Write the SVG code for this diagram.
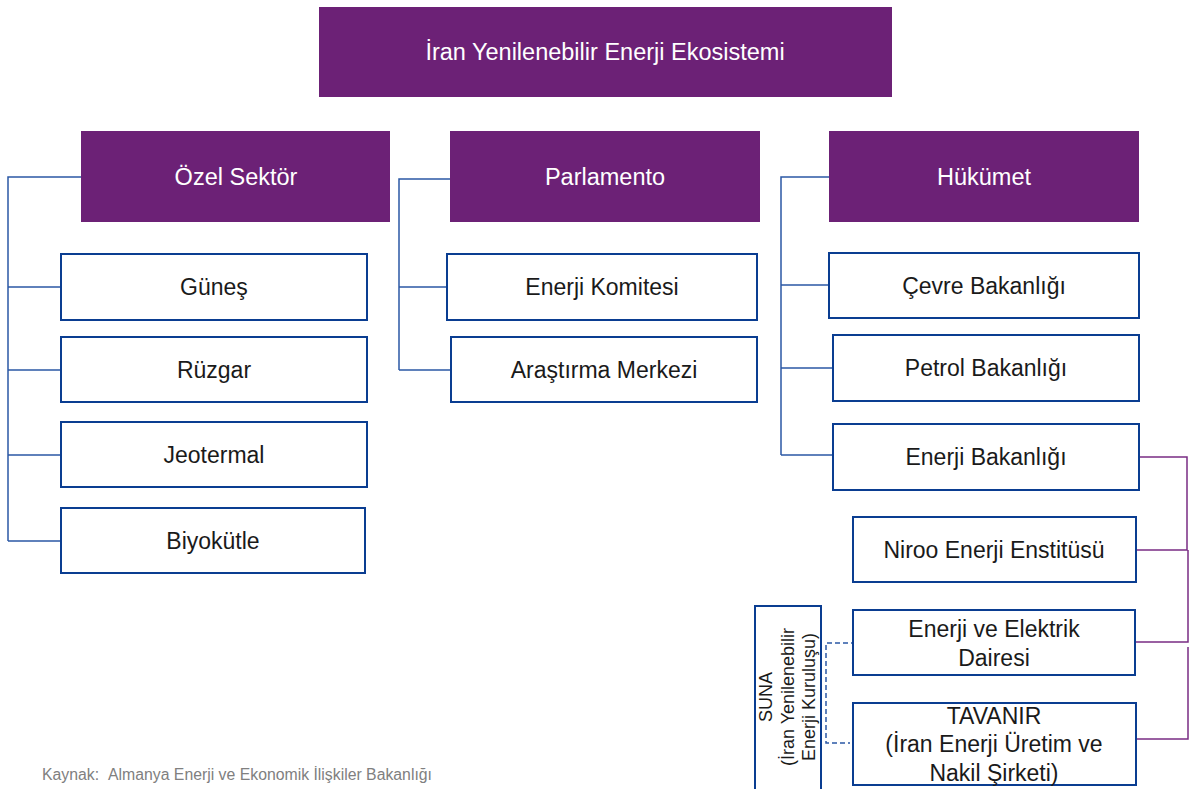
<svg xmlns="http://www.w3.org/2000/svg" width="1190" height="789" viewBox="0 0 1190 789">
<style>
.hdr{fill:#6C2176;}
.hdrt{fill:#ffffff;font-family:"Liberation Sans",Arial,sans-serif;font-size:23.5px;text-anchor:middle;dominant-baseline:central;}
.box{fill:#ffffff;stroke:#0A3D91;stroke-width:2;}
.bt{fill:#1a1a1a;font-family:"Liberation Sans",Arial,sans-serif;font-size:23px;text-anchor:middle;dominant-baseline:central;}
.st{fill:#1a1a1a;font-family:"Liberation Sans",Arial,sans-serif;font-size:18px;text-anchor:middle;dominant-baseline:central;}
.bl{fill:none;stroke:#2B58A5;stroke-width:1.5;}
.pl{fill:none;stroke:#7A2D84;stroke-width:1.5;}
.dl{fill:none;stroke:#2B58A5;stroke-width:1.5;stroke-dasharray:5 3;}
.src{fill:#808080;font-family:"Liberation Sans",Arial,sans-serif;font-size:15.8px;}
</style>
<rect width="1190" height="789" fill="#ffffff"/>
<g id="connectors">
<path class="bl" d="M81 177 H8 V541 M8 287 H61 M8 370 H61 M8 455 H61 M8 541 H61"/>
<path class="bl" d="M450 179 H399 V370 M399 287 H447 M399 370 H451"/>
<path class="bl" d="M829 177 H781 V455 M781 285 H829 M781 368 H833 M781 455 H833"/>
<path class="pl" d="M1139 457 H1187 V550 H1136 M1188 550 V642 H1136 M1188 647 V739 H1137"/>
<path class="dl" d="M856 643 H826 V743 H850"/>
</g>
<g id="title"><rect class="hdr" x="319" y="7" width="573" height="90"/><text class="hdrt" x="605" y="52">İran Yenilenebilir Enerji Ekosistemi</text></g>
<g id="ozel"><rect class="hdr" x="81" y="131" width="309" height="91"/><text class="hdrt" x="236" y="177">Özel Sektör</text></g>
<g id="parlamento"><rect class="hdr" x="450" y="131" width="310" height="91"/><text class="hdrt" x="605" y="177">Parlamento</text></g>
<g id="hukumet"><rect class="hdr" x="829" y="131" width="310" height="91"/><text class="hdrt" x="984" y="177">Hükümet</text></g>
<g id="gunes"><rect class="box" x="61" y="254" width="306" height="66"/><text class="bt" x="214" y="287">Güneş</text></g>
<g id="ruzgar"><rect class="box" x="61" y="337" width="306" height="65"/><text class="bt" x="214" y="370">Rüzgar</text></g>
<g id="jeotermal"><rect class="box" x="61" y="422" width="306" height="65"/><text class="bt" x="214" y="455">Jeotermal</text></g>
<g id="biyokutle"><rect class="box" x="61" y="508" width="304" height="65"/><text class="bt" x="213" y="541">Biyokütle</text></g>
<g id="komite"><rect class="box" x="447" y="254" width="310" height="66"/><text class="bt" x="602" y="287">Enerji Komitesi</text></g>
<g id="arastirma"><rect class="box" x="451" y="337" width="306" height="65"/><text class="bt" x="604" y="370">Araştırma Merkezi</text></g>
<g id="cevre"><rect class="box" x="829" y="253" width="310" height="65"/><text class="bt" x="984" y="286">Çevre Bakanlığı</text></g>
<g id="petrol"><rect class="box" x="833" y="335" width="306" height="66"/><text class="bt" x="986" y="368">Petrol Bakanlığı</text></g>
<g id="enerjibak"><rect class="box" x="833" y="424" width="306" height="66"/><text class="bt" x="986" y="457">Enerji Bakanlığı</text></g>
<g id="niroo"><rect class="box" x="853" y="517" width="283" height="65"/><text class="bt" x="994" y="550">Niroo Enerji Enstitüsü</text></g>
<g id="daire"><rect class="box" x="853" y="610" width="282" height="65"/><text class="bt" x="994" y="629">Enerji ve Elektrik</text><text class="bt" x="994" y="658">Dairesi</text></g>
<g id="tavanir"><rect class="box" x="853" y="703" width="283" height="82"/><text class="bt" x="994" y="716">TAVANIR</text><text class="bt" x="994" y="744">(İran Enerji Üretim ve</text><text class="bt" x="994" y="773">Nakil Şirketi)</text></g>
<g id="suna"><rect class="box" x="755" y="606" width="66" height="190"/>
<g transform="translate(788 697) rotate(-90)"><text class="st" x="0" y="-22">SUNA</text><text class="st" x="0" y="0">(İran Yenilenebilir</text><text class="st" x="0" y="21">Enerji Kuruluşu)</text></g></g>
<text class="src" y="780"><tspan x="42">Kaynak:</tspan><tspan x="108">Almanya Enerji ve Ekonomik İlişkiler Bakanlığı</tspan></text>
</svg>
